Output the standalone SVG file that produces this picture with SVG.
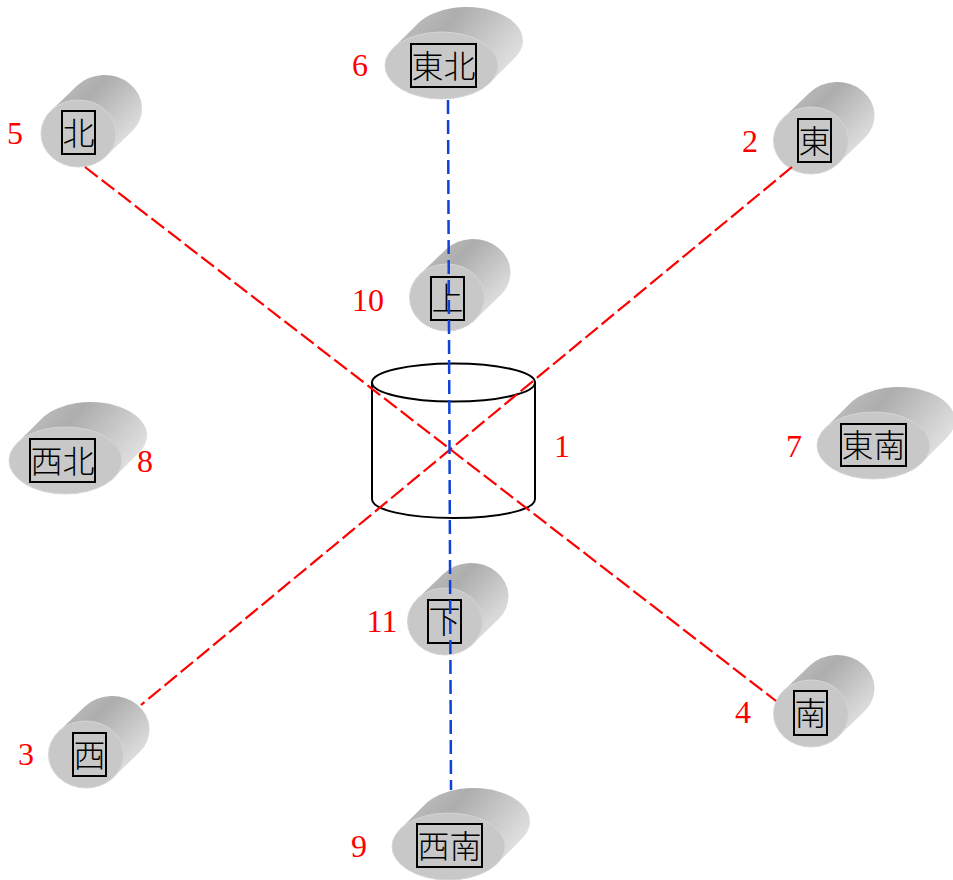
<svg xmlns="http://www.w3.org/2000/svg" width="953" height="880" viewBox="0 0 953 880">
<style>
.front{fill:#c8c8c8;stroke:#d6d6d6;stroke-width:1}
.bn{fill:url(#gn);stroke:none}
.bw{fill:url(#gw);stroke:none}
.box{fill:none;stroke:#000;stroke-width:2}
.t{font-family:"Noto Sans CJK JP","Noto Sans CJK TC",sans-serif;font-weight:300;font-size:32px;fill:#000;text-anchor:middle}
.n{font-family:"Liberation Serif",serif;font-size:32px;fill:#f00;text-anchor:middle}
.c{fill:none;stroke:#000;stroke-width:2}
.r{stroke:#f00;stroke-width:2.200;stroke-dasharray:16 5;fill:none}
.b{stroke:#0f42d8;stroke-width:2.500;stroke-dasharray:14 6;fill:none}
</style>
<defs>
<linearGradient id="gn" gradientUnits="userSpaceOnUse" x1="-20" y1="-45" x2="43" y2="18">
<stop offset="0" stop-color="#bdbdbd"/><stop offset="0.3" stop-color="#adadad"/><stop offset="1" stop-color="#e2e2e2"/>
</linearGradient>
<linearGradient id="gw" gradientUnits="userSpaceOnUse" x1="-25" y1="-55" x2="60" y2="15">
<stop offset="0" stop-color="#bdbdbd"/><stop offset="0.3" stop-color="#adadad"/><stop offset="1" stop-color="#e2e2e2"/>
</linearGradient>
<g id="nar"><path class="bn" d="M-27.5-22.8L-1.500-47.800A37.5 33.5 0 0 1 53.500-2.200L27.500 22.800Z"/><ellipse class="front" rx="37.500" ry="33.500"/></g>
<g id="wid"><path class="bw" d="M-48.600-17.100L-23.600-42.100A56.500 33.500 0 0 1 73.600-7.900L48.600 17.100Z"/><ellipse class="front" rx="56.500" ry="33.500"/></g>
</defs>
<g id="node-1"><path class="c" d="M372 382V499C372 510 408 518 453.500 518S535 510 535 499V382"/><ellipse class="c" cx="453.500" cy="382.500" rx="81.500" ry="19"/><text class="n" x="562" y="457">1</text></g>
<g id="node-2"><use href="#nar" x="811" y="140.500"/><rect class="box" x="798" y="119" width="33" height="43"/><text class="t" x="814.500" y="153">東</text><text class="n" x="750" y="152">2</text></g>
<g id="node-3"><use href="#nar" x="86" y="754.500"/><rect class="box" x="73" y="733" width="33" height="43"/><text class="t" x="89.500" y="767">西</text><text class="n" x="26" y="765">3</text></g>
<g id="node-4"><use href="#nar" x="811" y="713.500"/><rect class="box" x="794" y="691" width="33" height="44"/><text class="t" x="810.500" y="725">南</text><text class="n" x="743" y="723">4</text></g>
<g id="node-5"><use href="#nar" x="78.500" y="133.500"/><rect class="box" x="62" y="111" width="33" height="43"/><text class="t" x="78.500" y="145">北</text><text class="n" x="15" y="144">5</text></g>
<g id="node-6"><use href="#wid" x="441.500" y="65.500"/><rect class="box" x="411" y="44" width="65" height="43"/><text class="t" x="443.500" y="78">東北</text><text class="n" x="360" y="76">6</text></g>
<g id="node-7"><use href="#wid" x="873.500" y="445.500"/><rect class="box" x="841" y="424" width="65" height="42"/><text class="t" x="873.500" y="457">東南</text><text class="n" x="794" y="457">7</text></g>
<g id="node-8"><use href="#wid" x="65.500" y="460.500"/><rect class="box" x="30" y="439" width="65" height="43"/><text class="t" x="62.500" y="473">西北</text><text class="n" x="145" y="472">8</text></g>
<g id="node-9"><use href="#wid" x="448.500" y="846.500"/><rect class="box" x="417" y="824" width="65" height="43"/><text class="t" x="449.500" y="858">西南</text><text class="n" x="359" y="857">9</text></g>
<g id="node-10"><use href="#nar" x="447" y="297.500"/><rect class="box" x="431" y="277" width="33" height="43"/><text class="t" x="447.500" y="310">上</text><text class="n" x="368" y="311">10</text></g>
<g id="node-11"><use href="#nar" x="445" y="621.500"/><rect class="box" x="428" y="600" width="33" height="43"/><text class="t" x="444.500" y="633">下</text><text class="n" x="382" y="632">11</text></g>
<g id="connectors">
<path class="r" d="M85 167L776 701"/>
<path class="r" d="M792 167L141 705"/>
<path class="b" d="M448 100L451 790"/>
</g>
</svg>
